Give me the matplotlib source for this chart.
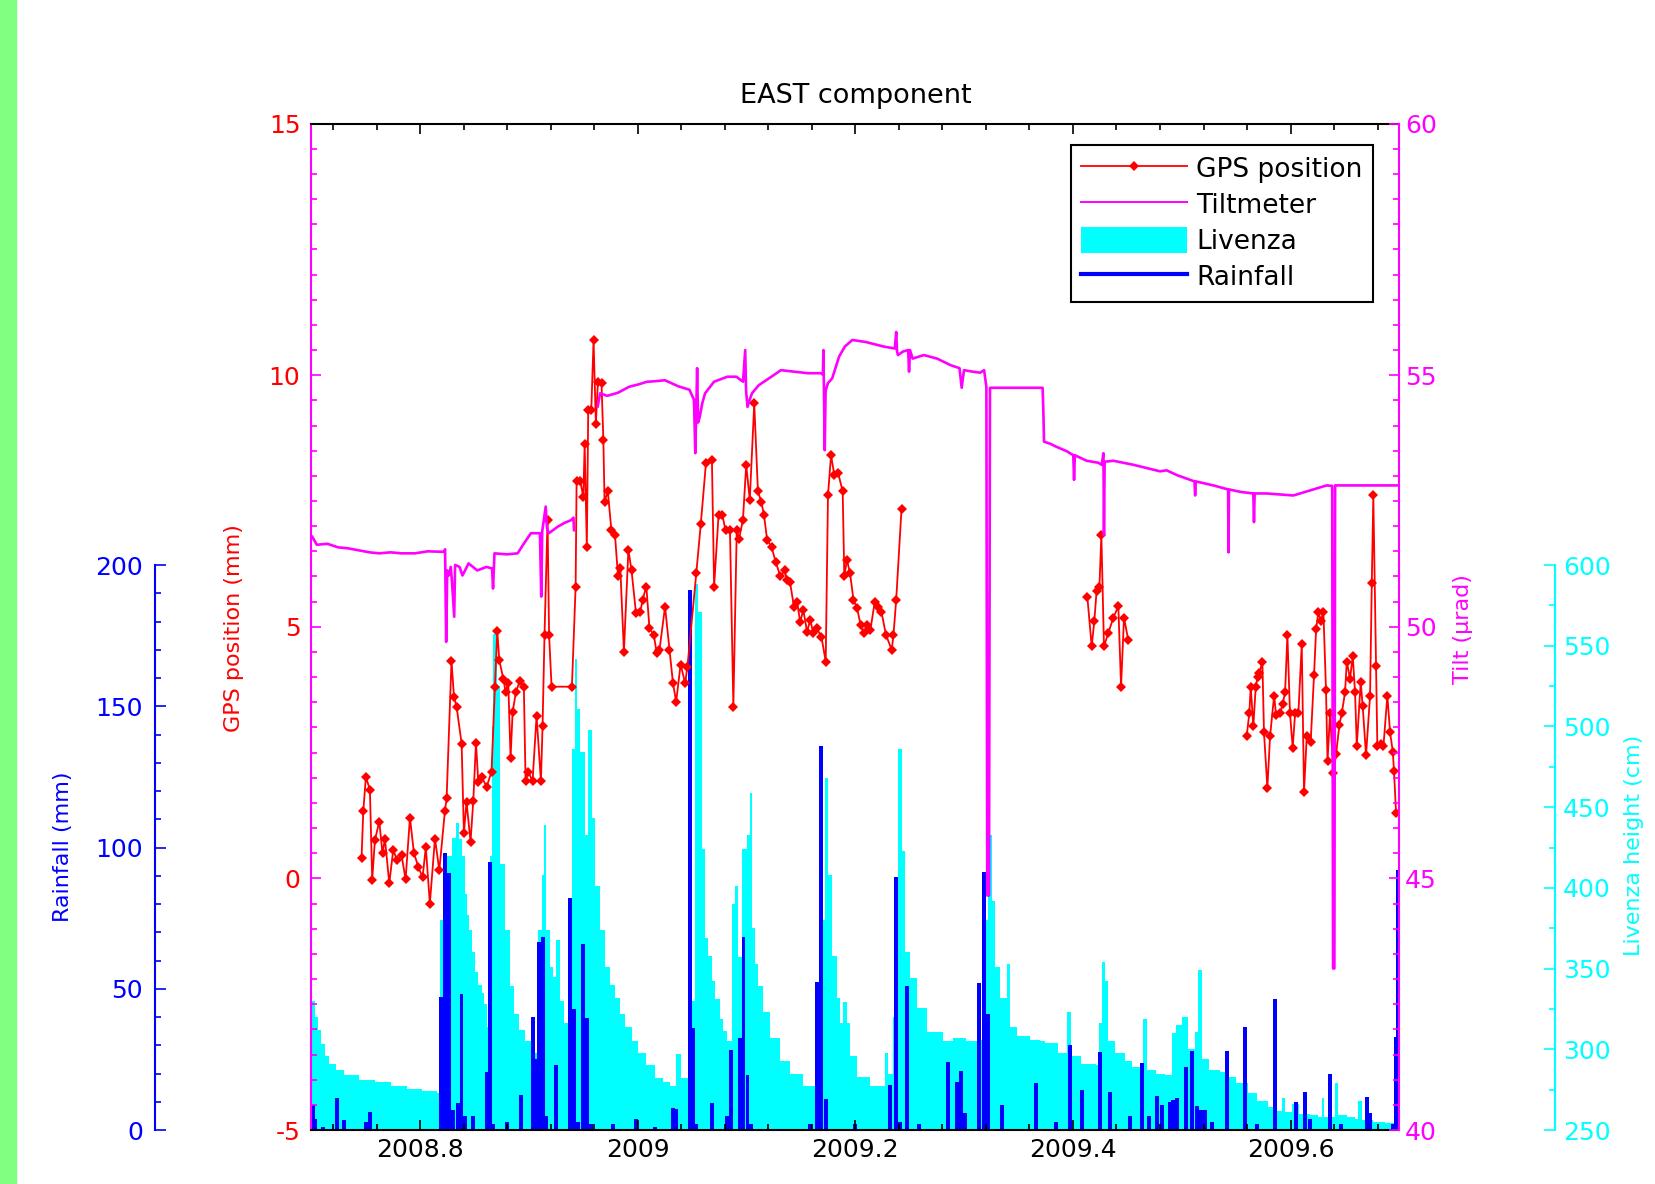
import matplotlib
matplotlib.use("Agg")
import matplotlib.pyplot as plt
import numpy as np
from matplotlib.lines import Line2D
from matplotlib.patches import Patch, Rectangle
from matplotlib.ticker import MultipleLocator, FuncFormatter

plt.rcParams['font.family'] = 'DejaVu Sans'
plt.rcParams['axes.unicode_minus'] = False

##### Data (decimal year, value) #####

# GPS east position (mm), three observation periods
gps_seg1 = [(2008.7460, 0.40), (2008.7476, 1.33), (2008.7500, 2.02), (2008.7537, 1.76), (2008.7558, -0.03),
            (2008.7583, 0.76), (2008.7623, 1.13), (2008.7653, 0.50), (2008.7675, 0.79), (2008.7715, -0.10),
            (2008.7751, 0.56), (2008.7788, 0.36), (2008.7828, 0.46), (2008.7865, -0.02), (2008.7905, 1.21),
            (2008.7942, 0.50), (2008.7982, 0.23), (2008.8021, 0.02), (2008.8051, 0.62), (2008.8088, -0.50),
            (2008.8135, 0.79), (2008.8175, 0.16), (2008.8226, 1.33), (2008.8242, 1.59), (2008.8287, 4.32),
            (2008.8310, 3.61), (2008.8334, 3.41), (2008.8380, 2.68), (2008.8401, 0.90), (2008.8425, 1.52),
            (2008.8462, 0.73), (2008.8487, 1.53), (2008.8512, 2.70), (2008.8533, 1.92), (2008.8564, 2.02),
            (2008.8610, 1.82), (2008.8655, 2.12), (2008.8686, 3.81), (2008.8708, 4.92), (2008.8726, 4.34),
            (2008.8763, 3.97), (2008.8784, 3.71), (2008.8809, 3.88), (2008.8830, 2.39), (2008.8849, 3.31),
            (2008.8880, 3.71), (2008.8916, 3.93), (2008.8952, 3.81), (2008.8968, 1.93), (2008.8993, 2.12),
            (2008.9032, 1.93), (2008.9069, 3.23), (2008.9109, 1.93), (2008.9124, 3.02), (2008.9142, 4.84),
            (2008.9170, 7.13), (2008.9184, 4.84), (2008.9207, 3.81), (2008.9394, 3.81), (2008.9428, 5.80),
            (2008.9437, 7.89), (2008.9471, 7.89), (2008.9499, 7.58), (2008.9511, 8.63), (2008.9531, 6.59),
            (2008.9544, 9.31), (2008.9572, 9.31), (2008.9593, 10.70), (2008.9614, 9.04), (2008.9633, 9.87),
            (2008.9666, 9.84), (2008.9683, 8.71), (2008.9694, 7.49), (2008.9724, 7.69), (2008.9757, 6.92),
            (2008.9790, 6.82), (2008.9818, 6.00), (2008.9839, 6.16), (2008.9872, 4.50), (2008.9913, 6.53),
            (2008.9942, 6.12), (2008.9983, 5.27), (2009.0023, 5.30), (2009.0044, 5.54), (2009.0078, 5.80),
            (2009.0107, 4.97), (2009.0146, 4.84), (2009.0175, 4.47), (2009.0199, 4.54), (2009.0250, 5.40),
            (2009.0291, 4.54), (2009.0323, 3.88), (2009.0352, 3.51), (2009.0393, 4.25), (2009.0435, 3.88),
            (2009.0456, 4.21), (2009.0537, 6.06), (2009.0579, 7.05), (2009.0626, 8.25), (2009.0681, 8.31),
            (2009.0701, 5.80), (2009.0742, 7.22), (2009.0777, 7.22), (2009.0806, 6.92), (2009.0847, 6.92),
            (2009.0878, 3.41), (2009.0909, 6.92), (2009.0930, 6.75), (2009.0966, 7.12), (2009.0996, 8.22),
            (2009.1029, 7.52), (2009.1070, 9.44), (2009.1104, 7.69), (2009.1134, 7.49), (2009.1160, 7.22),
            (2009.1188, 6.73), (2009.1229, 6.59), (2009.1267, 6.29), (2009.1311, 6.00), (2009.1351, 6.13),
            (2009.1368, 5.93), (2009.1398, 5.90), (2009.1435, 5.40), (2009.1463, 5.50), (2009.1492, 5.10),
            (2009.1521, 5.33), (2009.1556, 4.90), (2009.1584, 5.14), (2009.1614, 4.87), (2009.1645, 4.97),
            (2009.1688, 4.80), (2009.1727, 4.31), (2009.1748, 7.62), (2009.1776, 8.41), (2009.1806, 8.02),
            (2009.1842, 8.05), (2009.1883, 7.69), (2009.1898, 6.00), (2009.1922, 6.33), (2009.1951, 6.06),
            (2009.1982, 5.54), (2009.2015, 5.37), (2009.2048, 5.04), (2009.2076, 4.87), (2009.2105, 5.04),
            (2009.2138, 4.94), (2009.2178, 5.50), (2009.2211, 5.40), (2009.2239, 5.30), (2009.2281, 4.84),
            (2009.2334, 4.54), (2009.2350, 4.84), (2009.2375, 5.54), (2009.2424, 7.35)]

gps_seg2 = [(2009.4132, 5.60), (2009.4172, 4.61), (2009.4196, 5.11), (2009.4217, 5.71), (2009.4243, 5.79),
            (2009.4261, 6.82), (2009.4285, 4.61), (2009.4325, 4.88), (2009.4371, 5.18), (2009.4417, 5.41),
            (2009.4442, 3.81), (2009.4469, 5.18), (2009.4509, 4.73)]

gps_seg3 = [(2009.5597, 2.83), (2009.5621, 3.28), (2009.5634, 3.81), (2009.5658, 3.02), (2009.5680, 3.81),
            (2009.5698, 4.00), (2009.5714, 4.08), (2009.5741, 4.31), (2009.5756, 2.90), (2009.5787, 1.80),
            (2009.5812, 2.83), (2009.5849, 3.63), (2009.5867, 3.25), (2009.5904, 3.28), (2009.5928, 3.47),
            (2009.5950, 3.70), (2009.5971, 4.84), (2009.5995, 3.28), (2009.6020, 2.60), (2009.6042, 3.28),
            (2009.6072, 3.28), (2009.6103, 4.65), (2009.6124, 1.72), (2009.6149, 2.83), (2009.6185, 2.71),
            (2009.6216, 4.04), (2009.6235, 4.95), (2009.6256, 5.30), (2009.6278, 5.11), (2009.6302, 5.30),
            (2009.6326, 3.74), (2009.6340, 2.33), (2009.6363, 3.28), (2009.6394, 2.10), (2009.6419, 2.48),
            (2009.6449, 3.05), (2009.6471, 3.28), (2009.6501, 3.70), (2009.6517, 4.31), (2009.6547, 3.97),
            (2009.6572, 4.42), (2009.6593, 3.70), (2009.6609, 2.63), (2009.6645, 3.90), (2009.6663, 3.43),
            (2009.6694, 2.45), (2009.6731, 3.63), (2009.6747, 5.87), (2009.6761, 7.61), (2009.6786, 4.23),
            (2009.6798, 2.63), (2009.6829, 2.67), (2009.6854, 2.63), (2009.6890, 3.63), (2009.6915, 2.90),
            (2009.6940, 2.52), (2009.6951, 2.14), (2009.6970, 1.30)]

# Tiltmeter (microrad)
tilt_seg1 = [(2008.7007, 51.79), (2008.7049, 51.63), (2008.7146, 51.65), (2008.7243, 51.58), (2008.7335, 51.56),
             (2008.7437, 51.52), (2008.7534, 51.48), (2008.7621, 51.46), (2008.7728, 51.48), (2008.7825, 51.46),
             (2008.7951, 51.46), (2008.8068, 51.50), (2008.8217, 51.49), (2008.8228, 51.54), (2008.8238, 49.70),
             (2008.8248, 51.12), (2008.8262, 51.02), (2008.8280, 51.19), (2008.8291, 50.91), (2008.8312, 50.20),
             (2008.8320, 51.23), (2008.8361, 51.19), (2008.8388, 51.02), (2008.8444, 51.26), (2008.8524, 51.12),
             (2008.8608, 51.19), (2008.8660, 51.16), (2008.8669, 50.76), (2008.8682, 51.46), (2008.8796, 51.44),
             (2008.8895, 51.46), (2008.8951, 51.65), (2008.9017, 51.86), (2008.9100, 51.86), (2008.9112, 50.60),
             (2008.9121, 51.90), (2008.9153, 52.39), (2008.9165, 51.96), (2008.9182, 51.86), (2008.9264, 51.99),
             (2008.9330, 52.07), (2008.9387, 52.12), (2008.9408, 52.17), (2008.9413, 51.92)]

tilt_seg2 = [(2008.9631, 54.38), (2008.9653, 54.64), (2008.9718, 54.59), (2008.9816, 54.65), (2008.9920, 54.77),
             (2009.0010, 54.82), (2009.0084, 54.87), (2009.0155, 54.88), (2009.0249, 54.90), (2009.0311, 54.84),
             (2009.0372, 54.78), (2009.0475, 54.71), (2009.0516, 54.51), (2009.0528, 53.45), (2009.0536, 54.17),
             (2009.0545, 55.14), (2009.0554, 54.06), (2009.0569, 54.17), (2009.0592, 54.44), (2009.0618, 54.64),
             (2009.0700, 54.87), (2009.0823, 54.97), (2009.0906, 54.97), (2009.0967, 54.87), (2009.0987, 55.50),
             (2009.0995, 54.69), (2009.1008, 54.37), (2009.1029, 54.52), (2009.1049, 54.64), (2009.1111, 54.80),
             (2009.1234, 54.98), (2009.1316, 55.10), (2009.1439, 55.07), (2009.1562, 55.04), (2009.1684, 55.04),
             (2009.1701, 55.01), (2009.1706, 55.50), (2009.1718, 53.51), (2009.1726, 54.69), (2009.1747, 54.84),
             (2009.1787, 54.94), (2009.1850, 55.37), (2009.1903, 55.57), (2009.1972, 55.70), (2009.2095, 55.66),
             (2009.2259, 55.57), (2009.2362, 55.53), (2009.2375, 55.86), (2009.2383, 55.47), (2009.2391, 55.40),
             (2009.2437, 55.47), (2009.2485, 55.50), (2009.2493, 55.07), (2009.2502, 55.50), (2009.2526, 55.33),
             (2009.2629, 55.40), (2009.2751, 55.33), (2009.2875, 55.20), (2009.2957, 55.14), (2009.2977, 54.75),
             (2009.2998, 55.10), (2009.3081, 55.07), (2009.3146, 55.05), (2009.3183, 55.10), (2009.3204, 54.77),
             (2009.3212, 44.66), (2009.3228, 44.66), (2009.3237, 54.75), (2009.3721, 54.75), (2009.3728, 54.25),
             (2009.3734, 53.68), (2009.3788, 53.64), (2009.3845, 53.58), (2009.3942, 53.49), (2009.4003, 53.41),
             (2009.4010, 52.92), (2009.4017, 53.41), (2009.4126, 53.30), (2009.4233, 53.26), (2009.4264, 53.22),
             (2009.4280, 53.45), (2009.4285, 51.82), (2009.4291, 53.28), (2009.4371, 53.30), (2009.4555, 53.22),
             (2009.4670, 53.16), (2009.4800, 53.09), (2009.4861, 53.11), (2009.4961, 53.01), (2009.5076, 52.92),
             (2009.5117, 52.89), (2009.5123, 52.61), (2009.5129, 52.89), (2009.5290, 52.81), (2009.5426, 52.73),
             (2009.5430, 51.48), (2009.5434, 52.73), (2009.5544, 52.68), (2009.5658, 52.65), (2009.5664, 52.08),
             (2009.5670, 52.65), (2009.5781, 52.65), (2009.5903, 52.63), (2009.6026, 52.61), (2009.6180, 52.71),
             (2009.6332, 52.81), (2009.6383, 52.80), (2009.6391, 43.21), (2009.6403, 43.21), (2009.6410, 52.81),
             (2009.7000, 52.81)]

# Daily rainfall (mm)
rain = [(2008.7010, 9), (2008.7034, 4), (2008.7107, 1), (2008.7233, 11.5), (2008.7301, 3.5), (2008.7500, 3),
        (2008.7534, 6.5), (2008.8189, 47), (2008.8228, 98), (2008.8267, 91), (2008.8301, 7), (2008.8343, 9.5),
        (2008.8379, 48), (2008.8408, 5), (2008.8485, 5), (2008.8612, 20.5), (2008.8638, 95), (2008.8665, 2),
        (2008.8796, 3), (2008.8929, 12.3), (2008.9034, 40), (2008.9063, 25), (2008.9093, 66.6), (2008.9124, 68.4),
        (2008.9155, 5), (2008.9248, 23), (2008.9375, 82), (2008.9416, 43), (2008.9447, 3), (2008.9498, 66),
        (2008.9534, 39.5), (2008.9573, 2), (2008.9772, 2), (2008.9985, 4), (2009.0155, 1), (2009.0320, 7.7),
        (2009.0354, 7.5), (2009.0479, 191), (2009.0507, 36), (2009.0534, 2), (2009.0680, 9.4), (2009.0816, 5),
        (2009.0854, 28.3), (2009.0940, 32.4), (2009.0971, 68.4), (2009.1008, 19.4), (2009.1039, 2),
        (2009.1583, 2), (2009.1644, 52.5), (2009.1685, 136), (2009.1726, 11), (2009.2000, 2), (2009.2320, 16),
        (2009.2369, 89.7), (2009.2408, 3), (2009.2476, 51), (2009.2583, 2), (2009.2854, 24), (2009.2937, 17),
        (2009.2974, 21), (2009.3010, 6), (2009.3140, 52), (2009.3180, 91.4), (2009.3220, 41), (2009.3345, 8.8),
        (2009.3664, 16.5), (2009.3845, 3), (2009.3975, 30), (2009.4087, 14.2), (2009.4251, 27.5),
        (2009.4340, 13.6), (2009.4524, 5), (2009.4637, 23.6), (2009.4699, 5), (2009.4772, 12), (2009.4816, 9),
        (2009.4888, 10), (2009.4922, 10.5), (2009.4956, 11.5), (2009.5035, 22.4), (2009.5092, 28),
        (2009.5136, 8.5), (2009.5175, 7), (2009.5214, 7), (2009.5282, 3), (2009.5416, 28), (2009.5583, 36.5),
        (2009.5689, 2), (2009.5854, 46.5), (2009.6053, 10), (2009.6136, 13.5), (2009.6175, 4),
        (2009.6364, 19.8), (2009.6466, 2), (2009.6699, 11.6), (2009.6733, 6), (2009.6942, 2), (2009.6966, 33),
        (2009.6990, 92)]

# Livenza river height (cm)
livenza = [(2008.7005, 330), (2008.7029, 320), (2008.7058, 312), (2008.7087, 303), (2008.7126, 296),
           (2008.7165, 291), (2008.7223, 287), (2008.7301, 284), (2008.7437, 281), (2008.7583, 279.5),
           (2008.7728, 277), (2008.7874, 275.5), (2008.8019, 274), (2008.8155, 273), (2008.8184, 380),
           (2008.8214, 403), (2008.8243, 420), (2008.8291, 431), (2008.8330, 440), (2008.8359, 430),
           (2008.8379, 420), (2008.8408, 396), (2008.8427, 383), (2008.8447, 374), (2008.8476, 360),
           (2008.8505, 348), (2008.8534, 340), (2008.8563, 335), (2008.8583, 328), (2008.8612, 314),
           (2008.8641, 420), (2008.8660, 500), (2008.8671, 557), (2008.8702, 525), (2008.8733, 415),
           (2008.8777, 374), (2008.8825, 339), (2008.8864, 322), (2008.8903, 312), (2008.8961, 305),
           (2008.9019, 298), (2008.9085, 374), (2008.9121, 408), (2008.9140, 439), (2008.9153, 374),
           (2008.9192, 351), (2008.9223, 345), (2008.9252, 368), (2008.9282, 330), (2008.9320, 316),
           (2008.9359, 320), (2008.9391, 486), (2008.9422, 542), (2008.9438, 511), (2008.9468, 484),
           (2008.9515, 433), (2008.9545, 498), (2008.9576, 443), (2008.9606, 401), (2008.9652, 374),
           (2008.9698, 351), (2008.9748, 340), (2008.9790, 332), (2008.9835, 322), (2008.9882, 314),
           (2008.9942, 305), (2009.0005, 298), (2009.0078, 290), (2009.0155, 282), (2009.0233, 280),
           (2009.0295, 277.5), (2009.0350, 297), (2009.0398, 282), (2009.0464, 312), (2009.0495, 330),
           (2009.0525, 588), (2009.0555, 571), (2009.0587, 424), (2009.0617, 369), (2009.0648, 358),
           (2009.0679, 342), (2009.0709, 331), (2009.0755, 319), (2009.0786, 311.5), (2009.0817, 305),
           (2009.0862, 390), (2009.0893, 401), (2009.0923, 357), (2009.0954, 424), (2009.1000, 433),
           (2009.1031, 459), (2009.1046, 375), (2009.1077, 353), (2009.1107, 339), (2009.1153, 323),
           (2009.1215, 307), (2009.1307, 293), (2009.1398, 285), (2009.1521, 277), (2009.1659, 300),
           (2009.1689, 380), (2009.1720, 468), (2009.1750, 408), (2009.1782, 358), (2009.1827, 332),
           (2009.1858, 316), (2009.1888, 329), (2009.1922, 316), (2009.1950, 296), (2009.2012, 283),
           (2009.2134, 277.5), (2009.2272, 298), (2009.2303, 285), (2009.2349, 320), (2009.2394, 486),
           (2009.2425, 423), (2009.2455, 360), (2009.2502, 344), (2009.2563, 325.5), (2009.2655, 310.6),
           (2009.2808, 305), (2009.2900, 307), (2009.3019, 305), (2009.3115, 306), (2009.3165, 320),
           (2009.3194, 380), (2009.3223, 433), (2009.3252, 392), (2009.3283, 351), (2009.3329, 332),
           (2009.3390, 353), (2009.3421, 314), (2009.3490, 308), (2009.3602, 306), (2009.3697, 305),
           (2009.3743, 304), (2009.3864, 298), (2009.3942, 323), (2009.3981, 296), (2009.4078, 291),
           (2009.4214, 290), (2009.4243, 316), (2009.4263, 354), (2009.4294, 342), (2009.4324, 305),
           (2009.4386, 298), (2009.4476, 293), (2009.4539, 289), (2009.4647, 319), (2009.4677, 287),
           (2009.4767, 285), (2009.4845, 284), (2009.4907, 310), (2009.4951, 315), (2009.4999, 320),
           (2009.5058, 300), (2009.5121, 311), (2009.5152, 349), (2009.5183, 294), (2009.5252, 287),
           (2009.5350, 286), (2009.5427, 283), (2009.5495, 279), (2009.5612, 273), (2009.5689, 268),
           (2009.5796, 264), (2009.5845, 262), (2009.5918, 270), (2009.5951, 261), (2009.6015, 266),
           (2009.6078, 260), (2009.6175, 259), (2009.6252, 258), (2009.6286, 270), (2009.6311, 258),
           (2009.6409, 279), (2009.6439, 259), (2009.6515, 258), (2009.6592, 257), (2009.6623, 268),
           (2009.6660, 256), (2009.6757, 255), (2009.6868, 254.6), (2009.6961, 253), (2009.7000, 253)]

legend_labels = ["GPS position", "Tiltmeter", "Livenza", "Rainfall"]

##### Prepare arrays #####
gap = [(np.nan, np.nan)]
gps = np.array(gps_seg1 + gap + gps_seg2 + gap + gps_seg3)
tilt = np.array(tilt_seg1 + gap + tilt_seg2)
rain_arr = np.array(rain)
liv = np.array(livenza)

RED, MAG, CYAN, BLUE = '#ff0000', '#ff00ff', '#00ffff', '#0000ff'
TICK_FS = 18

##### Figure #####
fig = plt.figure(figsize=(16.56, 11.84), dpi=100)
fig.add_artist(Rectangle((0, 0), 16 / 1656, 1, transform=fig.transFigure, color='#80ff80', zorder=0))

main_rect = [0.1881, 0.0456, 0.6569, 0.8500]
scale_h = 0.4772
stretch = main_rect[3] / scale_h
xlim = (2008.7, 2009.7)

# Livenza (bottom layer)
ax_liv = fig.add_axes(main_rect)
ax_liv.fill_between(liv[:, 0], 250, liv[:, 1], step='post', color=CYAN, lw=0)
ax_liv.set_xlim(xlim)
ax_liv.set_ylim(250, 250 + 350 * stretch)
ax_liv.axis('off')

# Rainfall bars
ax_rain = fig.add_axes(main_rect)
ax_rain.bar(rain_arr[:, 0], rain_arr[:, 1], width=0.0036, color=BLUE, lw=0)
ax_rain.set_xlim(xlim)
ax_rain.set_ylim(0, 200 * stretch)
ax_rain.axis('off')

# GPS (main axis)
ax = fig.add_axes(main_rect)
ax.patch.set_visible(False)
ax.plot(gps[:, 0], gps[:, 1], color=RED, lw=1.3, marker='D', ms=5.5, mew=0)
ax.set_xlim(xlim)
ax.set_ylim(-5, 15)
ax.xaxis.set_major_locator(MultipleLocator(0.2))
ax.xaxis.set_minor_locator(MultipleLocator(0.04))
ax.xaxis.set_major_formatter(FuncFormatter(lambda v, p: f"{v:g}"))
ax.yaxis.set_major_locator(MultipleLocator(5))
ax.yaxis.set_minor_locator(MultipleLocator(0.5))
ax.tick_params(axis='x', which='both', direction='in', top=True, bottom=True, color='black',
               labelcolor='black', labelsize=TICK_FS, pad=6, width=1.2)
ax.tick_params(axis='y', which='both', direction='in', left=True, right=False, color=MAG,
               labelcolor=RED, labelsize=TICK_FS, pad=8, width=1.2)
ax.tick_params(which='major', length=7)
ax.tick_params(which='minor', length=4)
ax.spines['left'].set_color(MAG)
ax.spines['right'].set_visible(False)
for s in ['top', 'bottom', 'left']:
    ax.spines[s].set_linewidth(1.5)
ax.set_title('EAST component', fontsize=19.5, pad=15)

# Tiltmeter (right axis)
ax_t = fig.add_axes(main_rect)
ax_t.patch.set_visible(False)
ax_t.plot(tilt[:, 0], tilt[:, 1], color=MAG, lw=1.9)
ax_t.set_xlim(xlim)
ax_t.set_ylim(40, 60)
ax_t.yaxis.tick_right()
ax_t.yaxis.set_major_locator(MultipleLocator(5))
ax_t.yaxis.set_minor_locator(MultipleLocator(0.5))
ax_t.tick_params(axis='x', which='both', bottom=False, top=False, labelbottom=False)
ax_t.tick_params(axis='y', which='both', direction='in', colors=MAG, labelsize=TICK_FS, pad=4, width=1.2)
ax_t.tick_params(axis='y', which='major', length=7)
ax_t.tick_params(axis='y', which='minor', length=4)
for s in ['top', 'bottom', 'left']:
    ax_t.spines[s].set_visible(False)
ax_t.spines['right'].set_color(MAG)
ax_t.spines['right'].set_linewidth(1.5)

# Rainfall scale (far left)
ax_r = fig.add_axes([0.0938, main_rect[1], 0.02, scale_h])
ax_r.patch.set_visible(False)
ax_r.set_ylim(0, 200)
ax_r.yaxis.set_major_locator(MultipleLocator(50))
ax_r.yaxis.set_minor_locator(MultipleLocator(10))
ax_r.tick_params(axis='x', which='both', bottom=False, labelbottom=False)
ax_r.tick_params(axis='y', which='both', direction='in', colors=BLUE, labelsize=TICK_FS, pad=9, width=1.2)
ax_r.tick_params(axis='y', which='major', length=8)
ax_r.tick_params(axis='y', which='minor', length=4.5)
for s in ['top', 'bottom', 'right']:
    ax_r.spines[s].set_visible(False)
ax_r.spines['left'].set_color(BLUE)
ax_r.spines['left'].set_linewidth(1.5)

# Livenza scale (far right)
ax_l = fig.add_axes([0.9388 - 0.02, main_rect[1], 0.02, scale_h])
ax_l.patch.set_visible(False)
ax_l.set_ylim(250, 600)
ax_l.yaxis.tick_right()
ax_l.yaxis.set_major_locator(MultipleLocator(50))
ax_l.yaxis.set_minor_locator(MultipleLocator(25))
ax_l.tick_params(axis='x', which='both', bottom=False, labelbottom=False)
ax_l.tick_params(axis='y', which='both', direction='in', colors=CYAN, labelsize=TICK_FS, pad=6, width=1.2)
ax_l.tick_params(axis='y', which='major', length=8)
ax_l.tick_params(axis='y', which='minor', length=4.5)
for s in ['top', 'bottom', 'left']:
    ax_l.spines[s].set_visible(False)
ax_l.spines['right'].set_color(CYAN)
ax_l.spines['right'].set_linewidth(1.5)

# Axis labels
fig.text(0.1416, 0.4696, 'GPS position (mm)', rotation=90, ha='center', va='center', color=RED, fontsize=16)
fig.text(0.0383, 0.2846, 'Rainfall (mm)', rotation=90, ha='center', va='center', color=BLUE, fontsize=16)
fig.text(0.8833, 0.4683, 'Tilt (\u03bcrad)', rotation=90, ha='center', va='center', color=MAG, fontsize=16)
fig.text(0.9866, 0.2863, 'Livenza height (cm)', rotation=90, ha='center', va='center', color=CYAN, fontsize=16)

# Legend
handles = [Line2D([], [], color=RED, lw=1.3, marker='D', ms=5.5, mew=0),
           Line2D([], [], color=MAG, lw=1.4),
           Patch(facecolor=CYAN, edgecolor='none'),
           Line2D([], [], color=BLUE, lw=3)]
leg = ax_t.legend(handles, legend_labels, loc='upper right', bbox_to_anchor=(0.8291, 0.8778),
                  bbox_transform=fig.transFigure, borderaxespad=0, fontsize=19, fancybox=False,
                  edgecolor='black', framealpha=1, handlelength=4.0, handleheight=1.1,
                  handletextpad=0.35, labelspacing=0.32, borderpad=0.4)
leg.get_frame().set_linewidth(1.5)

fig.savefig('out.png', dpi=100, facecolor='white')
